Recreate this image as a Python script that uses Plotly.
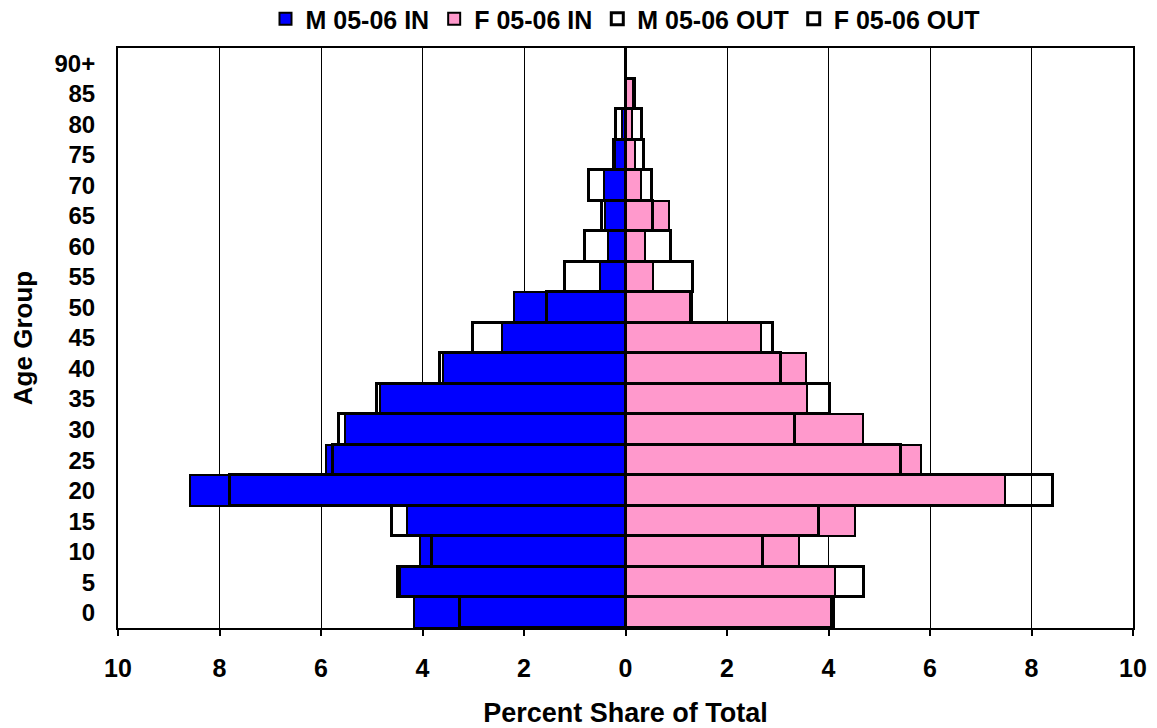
import plotly.graph_objects as go

# Age groups (bottom to top)
age_groups = ["0", "5", "10", "15", "20", "25", "30", "35", "40", "45",
              "50", "55", "60", "65", "70", "75", "80", "85", "90+"]

# Percent share of total, 2005-06
m_in = [4.16, 4.45, 4.05, 4.30, 8.59, 5.91, 5.53, 4.83, 3.59, 2.44,
        2.20, 0.51, 0.35, 0.40, 0.43, 0.20, 0.07, 0.00, 0.00]
f_in = [4.05, 4.12, 3.42, 4.52, 7.48, 5.83, 4.68, 3.58, 3.55, 2.67,
        1.28, 0.55, 0.39, 0.86, 0.30, 0.19, 0.12, 0.15, 0.00]
m_out = [3.27, 4.49, 3.82, 4.61, 7.80, 5.76, 5.64, 4.89, 3.66, 3.00,
         1.54, 1.19, 0.79, 0.47, 0.71, 0.22, 0.18, 0.00, 0.00]
f_out = [4.10, 4.69, 2.71, 3.82, 8.43, 5.43, 3.34, 4.02, 3.06, 2.91,
         1.31, 1.33, 0.90, 0.55, 0.52, 0.36, 0.32, 0.19, 0.00]

x_ticks = [-10, -8, -6, -4, -2, 0, 2, 4, 6, 8, 10]
x_tick_text = [str(abs(v)) for v in x_ticks]

BLUE = "#0000FF"
PINK = "#FF99CC"
FONT = "Liberation Sans, Arial, sans-serif"


def bold(size):
    return dict(family=FONT, size=size, color="black", weight="bold")


fig = go.Figure()
fig.add_trace(go.Bar(
    name="M 05-06 IN", y=age_groups, x=[-v for v in m_in], orientation="h",
    marker=dict(color=BLUE, line=dict(color="black", width=2)),
))
fig.add_trace(go.Bar(
    name="F 05-06 IN", y=age_groups, x=f_in, orientation="h",
    marker=dict(color=PINK, line=dict(color="black", width=2)),
))
fig.add_trace(go.Bar(
    name="M 05-06 OUT", y=age_groups, x=[-v for v in m_out], orientation="h",
    marker=dict(color="rgba(0,0,0,0)", line=dict(color="black", width=3)),
))
fig.add_trace(go.Bar(
    name="F 05-06 OUT", y=age_groups, x=f_out, orientation="h",
    marker=dict(color="rgba(0,0,0,0)", line=dict(color="black", width=3)),
))

fig.update_layout(
    width=1157, height=728,
    margin=dict(l=118, r=24, t=48, b=100, autoexpand=False),
    paper_bgcolor="white", plot_bgcolor="white",
    barmode="overlay", bargap=0,
    font=bold(24),
    showlegend=True,
    legend=dict(
        orientation="h", x=0.5, xanchor="center", y=1.05, yanchor="middle",
        font=bold(25), itemwidth=30, tracegroupgap=0,
        bgcolor="rgba(0,0,0,0)",
    ),
    xaxis=dict(
        range=[-10, 10], tickvals=x_ticks, ticktext=x_tick_text,
        tickfont=bold(25), automargin=False,
        showgrid=True, gridcolor="black", gridwidth=1,
        zeroline=True, zerolinecolor="black", zerolinewidth=1,
        showline=True, linecolor="black", linewidth=2, mirror=True,
        ticks="outside", ticklen=6, tickwidth=2, tickcolor="black",
        ticklabelstandoff=11,
        title=dict(text="Percent Share of Total", standoff=22, font=bold(27)),
        fixedrange=True,
    ),
    yaxis=dict(
        type="category", categoryorder="array", categoryarray=age_groups,
        tickmode="array", tickvals=age_groups, ticktext=age_groups,
        tickfont=bold(24), automargin=False,
        showgrid=False, showline=True, linecolor="black", linewidth=2,
        mirror=True, ticks="", ticklabelstandoff=16,
        title=dict(text="Age Group", standoff=14, font=bold(26)),
        fixedrange=True,
    ),
)

fig.write_html("out.html")
